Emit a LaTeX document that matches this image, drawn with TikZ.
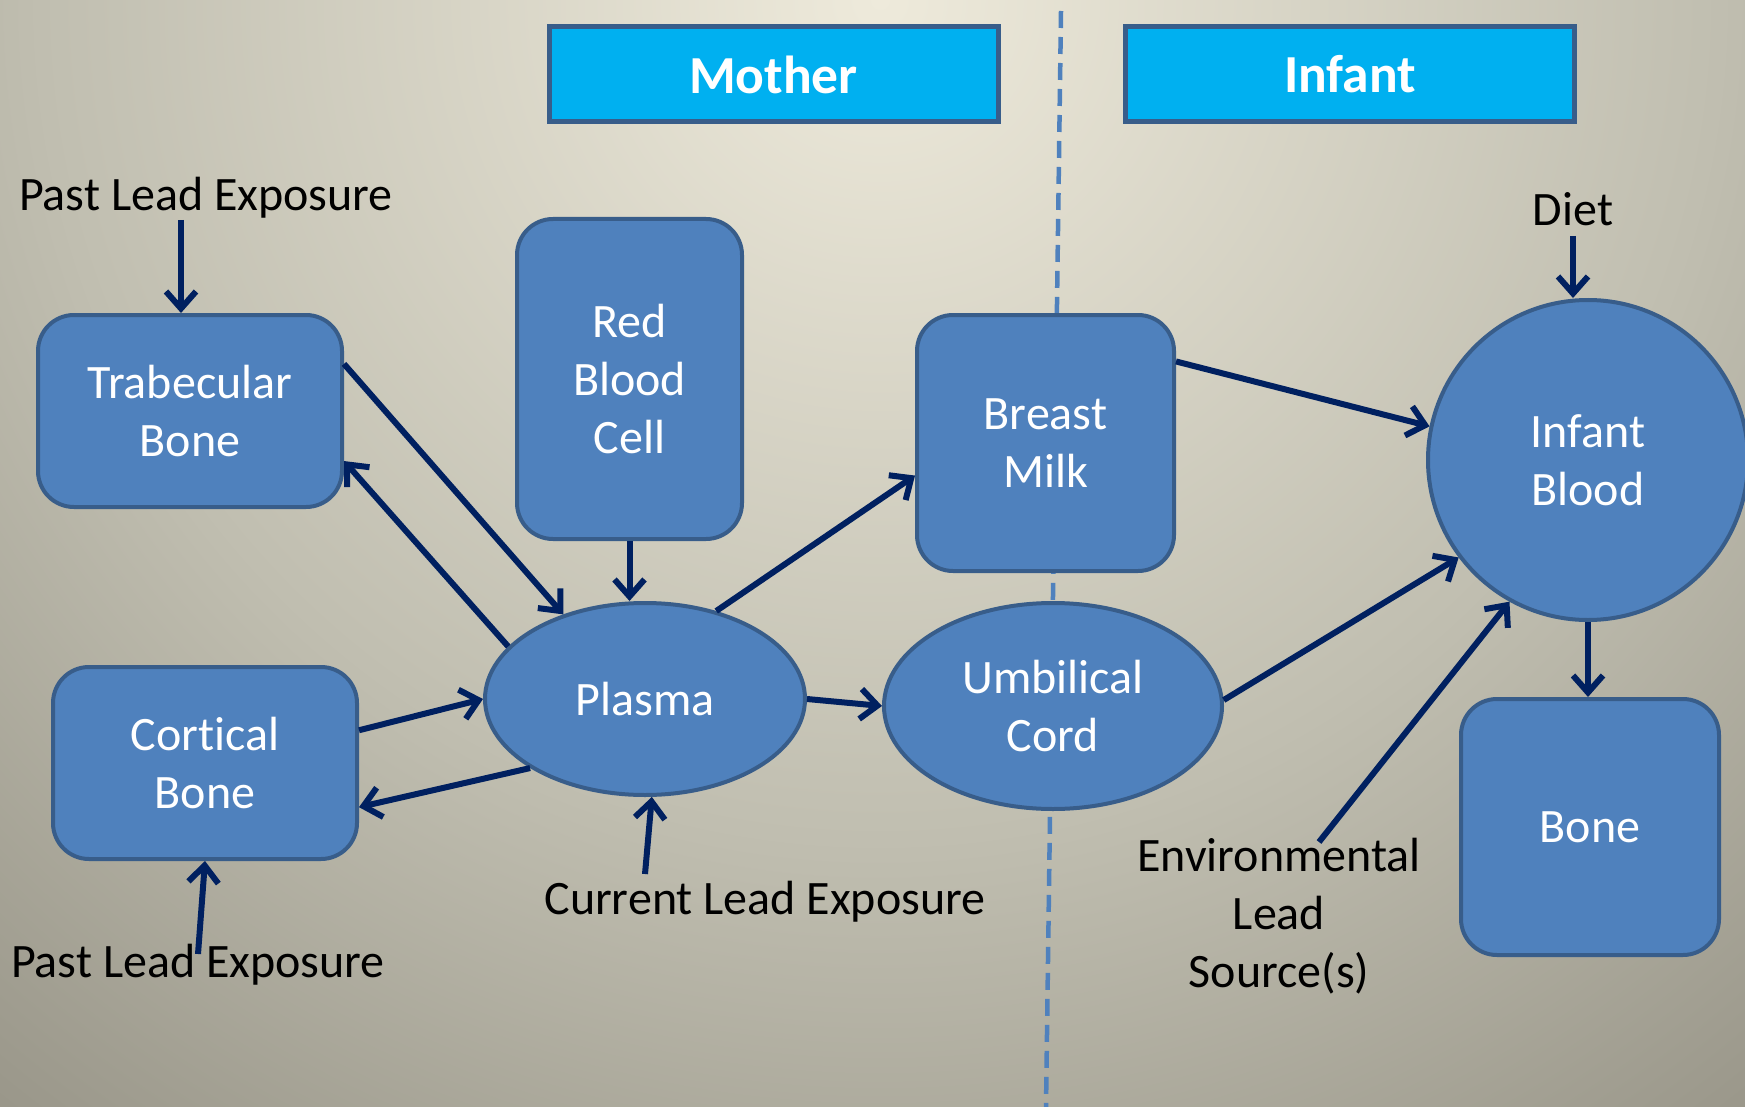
\documentclass[tikz,border=0pt]{standalone}
\usepackage{fontspec}
\setmainfont{Carlito}[Ligatures=NoCommon]
\usetikzlibrary{arrows.meta,shapes.geometric,calc}
\definecolor{nodefill}{HTML}{4F81BD}
\definecolor{nodeline}{HTML}{385D8A}
\definecolor{hdrfill}{HTML}{00B0F0}
\definecolor{arrowc}{HTML}{002060}
\definecolor{dashc}{HTML}{4F81BD}
\definecolor{bga}{HTML}{EEEADB}
\definecolor{bgb}{HTML}{C0BEB0}
\definecolor{bgc}{HTML}{9A978A}
\pgfdeclareradialshading{bgshade}{\pgfpoint{0bp}{0bp}}{color(0bp)=(bga); color(14bp)=(bgb); color(23.5bp)=(bgc); color(50bp)=(bgc)}
\begin{document}
\begin{tikzpicture}[x=1pt,y=-1pt,
  txt/.style={font=\fontsize{48}{58}\selectfont},
  box/.style={txt, draw=nodeline, fill=nodefill, line width=4pt, rounded corners=36pt, text=white, align=center, inner sep=0pt},
  oval/.style={txt, ellipse, draw=nodeline, fill=nodefill, line width=4pt, text=white, align=center, inner sep=0pt},
  hdr/.style={draw=nodeline, fill=hdrfill, line width=5pt, text=white, font=\fontsize{53.5}{60}\selectfont\bfseries, minimum width=449pt, minimum height=95pt, inner sep=0pt},
  lbl/.style={txt, text=black, inner sep=0pt, align=center},
  link/.style={draw=arrowc, line width=6pt, -{Straight Barb[length=17pt,width=30pt]}},
  divider/.style={draw=dashc, line width=4.5pt, dash pattern=on 17pt off 9pt},
]
\useasboundingbox (0,0) rectangle (1745,1107);
\begin{scope}
  \clip (0,0) rectangle (1745,1107);
  \shade[shading=bgshade] (880,0) circle (1500pt);
\end{scope}

% divider
\coordinate (divT) at (1061,11);
\coordinate (divB) at (1046,1107);
\draw[divider] (divT) -- (divB);

% headers
\node[hdr] (mother) at (773.5,74.5) {Mother};
\node[hdr] (infant) at (1350,74.5) {Infant};

% nodes
\node[box, minimum width=304pt, minimum height=192pt] (trab) at (190,411) {Trabecular\\Bone};
\node[box, minimum width=225pt, minimum height=320pt] (rbc) at (629.5,379) {Red\\Blood\\Cell};
\node[box, minimum width=257pt, minimum height=256pt] (bm) at (1045.5,443) {Breast\\Milk};
\node[box, minimum width=304pt, minimum height=192pt] (cort) at (205,763) {Cortical\\Bone};
\node[oval, minimum width=320pt, minimum height=192pt] (plasma) at (645,699) {Plasma};
\node[oval, minimum width=338pt, minimum height=206pt] (umb) at (1053,706) {Umbilical\\Cord};
\node[oval, minimum width=320pt, minimum height=320pt] (ib) at (1588,460) {Infant\\Blood};
\node[box, minimum width=258pt, minimum height=256pt] (bone) at (1590,827) {Bone};

% labels
\node[lbl, anchor=base] (pastT) at (206,211) {Past Lead Exposure};
\node[lbl, anchor=base] (pastB) at (198,977) {Past Lead Exposure};
\node[lbl, anchor=base] (cur) at (765,914) {Current Lead Exposure};
\node[lbl, anchor=base] (diet) at (1573,226) {Diet};
\node[lbl] (env) at (1279,916) {Environmental\\Lead\\Source(s)};

% arrow start points
\coordinate (ptA) at (181,220);
\coordinate (pbA) at (198,954);
\coordinate (curA) at (645,874);
\coordinate (dietA) at (1573,236);
\coordinate (envA) at (1319,842);

% connectors
\draw[link] (ptA) -- (ptA |- trab.north);
\draw[link] (pbA) -- (cort.south);
\draw[link] (curA) -- (plasma.274);
\draw[link] (dietA) -- (dietA |- ib.north);
\draw[link] (envA) -- (ib.241);
\draw[link] (trab.17) -- (plasma.134);
\draw[link] (plasma.159) -- (trab.-18);
\draw[link] (rbc.south) -- (rbc.south |- plasma.north);
\draw[link] (plasma.51) -- (bm.194);
\draw[link] (cort.12) -- (plasma.180);
\draw[link] (plasma.211) -- (cort.-16);
\draw[link] (plasma.0) -- (umb.180);
\draw[link] (bm.32) -- (ib.168);
\draw[link] (umb.2) -- (ib.217);
\draw[link] (ib.south) -- (ib.south |- bone.north);
\end{tikzpicture}
\end{document}
